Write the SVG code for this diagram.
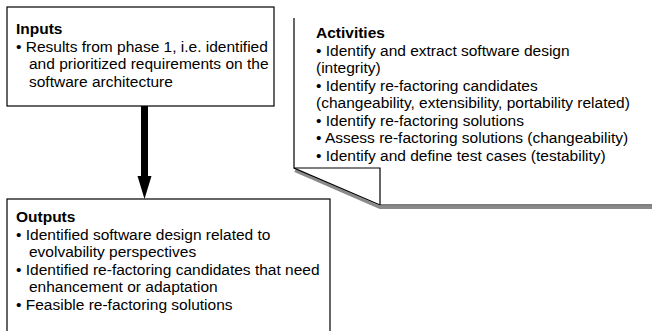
<svg xmlns="http://www.w3.org/2000/svg" width="652" height="331" viewBox="0 0 652 331">
  <style>
    .box { fill: #ffffff; stroke: #000000; stroke-width: 1.2; }
    .t { font-family: "Liberation Sans", Arial, sans-serif; font-size: 15.5px; fill: #000000; }
    .h { font-weight: bold; }
    .shadow { fill: none; stroke: #8a8a8a; stroke-width: 3; }
    .edge { fill: none; stroke: #000000; stroke-width: 1.2; }
  </style>
  <rect width="652" height="331" fill="#ffffff"/>

  <!-- Activities: page with folded lower-left corner -->
  <g id="activities">
    <polyline class="shadow" points="295,170.5 380,207.5 652,207.5"/>
    <path d="M294,18 L294,168 L380,205 L652,205 L652,18 Z" fill="#ffffff" stroke="none"/>
    <polyline class="edge" points="294,18 294,168 380,205 652,205"/>
    <polyline class="edge" points="294,168 380,168 380,205"/>
    <text class="t">
      <tspan class="h" x="316" y="38">Activities</tspan>
      <tspan x="316" y="55.5">• Identify and extract software design</tspan>
      <tspan x="316" y="73">(integrity)</tspan>
      <tspan x="316" y="90.5">• Identify re-factoring candidates</tspan>
      <tspan x="316" y="108">(changeability, extensibility, portability related)</tspan>
      <tspan x="316" y="125.5">• Identify re-factoring solutions</tspan>
      <tspan x="316" y="143">• Assess re-factoring solutions (changeability)</tspan>
      <tspan x="316" y="160.5">• Identify and define test cases (testability)</tspan>
    </text>
  </g>

  <g id="inputs">
    <rect class="box" x="7" y="7" width="267" height="99"/>
    <text class="t">
      <tspan class="h" x="16" y="34">Inputs</tspan>
      <tspan x="16" y="51.5">• Results from phase 1, i.e. identified</tspan>
      <tspan x="29" y="69">and prioritized requirements on the</tspan>
      <tspan x="29" y="86.5">software architecture</tspan>
    </text>
  </g>

  <g id="outputs">
    <rect class="box" x="7" y="199" width="323" height="140"/>
    <text class="t">
      <tspan class="h" x="16" y="222">Outputs</tspan>
      <tspan x="16" y="239.5">• Identified software design related to</tspan>
      <tspan x="29" y="257">evolvability perspectives</tspan>
      <tspan x="16" y="274.5">• Identified re-factoring candidates that need</tspan>
      <tspan x="29" y="292">enhancement or adaptation</tspan>
      <tspan x="16" y="309.5">• Feasible re-factoring solutions</tspan>
    </text>
  </g>

  <g id="connectors">
    <polygon points="141,106 148,106 148,176 151.5,176 144.5,199 137.5,176 141,176" fill="#000000"/>
  </g>
</svg>
